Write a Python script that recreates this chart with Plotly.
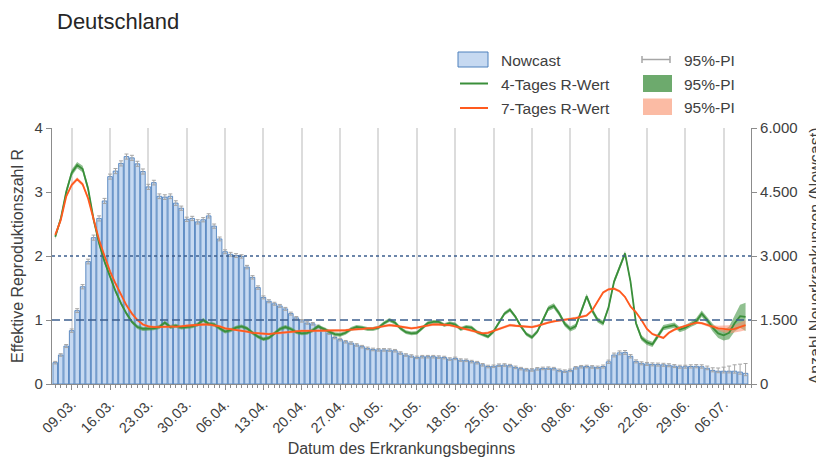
import pandas as pd
import plotly.graph_objects as go

# ---------------- data ----------------
dates = pd.date_range("2020-03-06", "2020-07-10", freq="D")

nowcast = [
    500, 680, 890, 1250, 1720, 2280, 2870, 3430, 3880, 4290,
    4860, 4990, 5170, 5330, 5300, 5160, 4980, 4620, 4720, 4400,
    4380, 4400, 4240, 4120, 3860, 3880, 3800, 3850, 3940, 3700,
    3400, 3100, 3040, 3010, 2990, 2740, 2500, 2260, 2030, 1940,
    1880, 1830, 1760, 1650, 1550, 1480, 1430, 1410, 1350, 1275,
    1190, 1090, 1040, 990, 960, 915, 875, 835, 810, 800,
    800, 795, 780, 725, 680, 655, 625, 640, 640, 640,
    630, 620, 585, 600, 560, 555, 525, 500, 450, 410,
    415, 440, 445, 430, 390, 360, 335, 330, 355, 365,
    370, 360, 320, 300, 320, 380, 405, 410, 400, 390,
    410, 520, 680, 730, 740, 650, 530, 485, 470, 460,
    455, 450, 440, 420, 405, 405, 410, 415, 405, 370,
    320, 300, 300, 300, 300, 280, 250,
]
nowcast_pi_plus = [
    30, 30, 35, 40, 45, 50, 55, 60, 60, 60,
    60, 60, 60, 60, 60, 60, 60, 60, 55, 55,
    55, 55, 55, 50, 50, 50, 50, 50, 50, 50,
    45, 45, 45, 45, 40, 40, 40, 40, 35, 35,
    35, 35, 35, 35, 30, 30, 30, 30, 30, 30,
    30, 30, 30, 30, 30, 30, 30, 30, 30, 30,
    30, 30, 30, 30, 30, 30, 30, 30, 30, 30,
    30, 30, 30, 30, 30, 30, 30, 30, 30, 30,
    30, 30, 30, 30, 30, 30, 30, 30, 30, 30,
    30, 30, 30, 30, 30, 30, 30, 30, 30, 30,
    35, 40, 45, 45, 45, 40, 35, 35, 35, 35,
    35, 35, 35, 35, 35, 35, 40, 40, 45, 50,
    60, 75, 95, 120, 150, 185, 230,
]
nowcast_pi_minus = [
    30, 30, 35, 40, 45, 50, 55, 60, 60, 60,
    60, 60, 60, 60, 60, 60, 60, 60, 55, 55,
    55, 55, 55, 50, 50, 50, 50, 50, 50, 50,
    45, 45, 45, 45, 40, 40, 40, 40, 35, 35,
    35, 35, 35, 35, 30, 30, 30, 30, 30, 30,
    30, 30, 30, 30, 30, 30, 30, 30, 30, 30,
    30, 30, 30, 30, 30, 30, 30, 30, 30, 30,
    30, 30, 30, 30, 30, 30, 30, 30, 30, 30,
    30, 30, 30, 30, 30, 30, 30, 30, 30, 30,
    30, 30, 30, 30, 30, 30, 30, 30, 30, 30,
    35, 40, 45, 45, 45, 40, 35, 35, 35, 35,
    35, 35, 35, 35, 35, 35, 35, 35, 35, 35,
    35, 35, 40, 40, 45, 50, 55,
]

r4 = [
    2.30, 2.58, 3.00, 3.30, 3.42, 3.36, 3.05, 2.57, 2.20, 1.91,
    1.68, 1.45, 1.26, 1.10, 0.97, 0.89, 0.86, 0.86, 0.87, 0.89,
    0.96, 0.89, 0.91, 0.88, 0.89, 0.90, 0.93, 1.00, 0.94, 0.93,
    0.87, 0.82, 0.84, 0.88, 0.90, 0.87, 0.80, 0.74, 0.70, 0.72,
    0.79, 0.86, 0.89, 0.86, 0.81, 0.79, 0.80, 0.84, 0.90, 0.86,
    0.81, 0.78, 0.77, 0.80, 0.86, 0.89, 0.88, 0.86, 0.86, 0.88,
    0.95, 1.00, 0.96, 0.87, 0.81, 0.79, 0.80, 0.88, 0.95, 0.97,
    0.97, 0.92, 0.95, 0.93, 0.86, 0.89, 0.88, 0.81, 0.77, 0.74,
    0.82, 0.97, 1.10, 1.16, 1.05, 0.90, 0.78, 0.73, 0.82, 1.00,
    1.18, 1.22, 1.10, 0.94, 0.86, 0.90, 1.14, 1.37, 1.15, 1.00,
    0.95, 1.20, 1.60, 1.82, 2.04, 1.60, 0.95, 0.72, 0.65, 0.62,
    0.75, 0.88, 0.90, 0.92, 0.85, 0.88, 0.93, 0.98, 1.10, 1.00,
    0.88, 0.79, 0.76, 0.80, 0.95, 1.06, 1.05,
]
r4_pi_halfwidth = [
    0.04, 0.04, 0.05, 0.05, 0.05, 0.05, 0.05, 0.04, 0.04, 0.04,
    0.03, 0.03, 0.03, 0.03, 0.03, 0.03, 0.03, 0.03, 0.03, 0.03,
    0.03, 0.03, 0.03, 0.03, 0.03, 0.03, 0.03, 0.03, 0.03, 0.03,
    0.03, 0.03, 0.03, 0.03, 0.03, 0.03, 0.03, 0.03, 0.03, 0.03,
    0.03, 0.03, 0.03, 0.03, 0.03, 0.03, 0.03, 0.03, 0.03, 0.03,
    0.03, 0.03, 0.03, 0.03, 0.03, 0.03, 0.03, 0.03, 0.03, 0.03,
    0.03, 0.03, 0.03, 0.03, 0.03, 0.03, 0.03, 0.03, 0.03, 0.03,
    0.03, 0.03, 0.03, 0.03, 0.03, 0.03, 0.03, 0.03, 0.03, 0.03,
    0.03, 0.03, 0.03, 0.03, 0.03, 0.03, 0.03, 0.03, 0.03, 0.03,
    0.04, 0.04, 0.04, 0.04, 0.04, 0.04, 0.04, 0.04, 0.04, 0.04,
    0.04, 0.04, 0.04, 0.04, 0.04, 0.04, 0.04, 0.04, 0.04, 0.04,
    0.04, 0.04, 0.04, 0.04, 0.04, 0.04, 0.04, 0.05, 0.05, 0.05,
    0.06, 0.07, 0.08, 0.10, 0.13, 0.18, 0.22,
]

r7 = [
    2.33, 2.56, 2.93, 3.11, 3.20, 3.12, 2.90, 2.58, 2.25, 2.00,
    1.76, 1.57, 1.39, 1.23, 1.10, 1.00, 0.93, 0.90, 0.89, 0.89,
    0.89, 0.89, 0.90, 0.90, 0.91, 0.92, 0.93, 0.93, 0.93, 0.92,
    0.90, 0.87, 0.86, 0.84, 0.83, 0.82, 0.80, 0.79, 0.78, 0.78,
    0.79, 0.80, 0.81, 0.82, 0.82, 0.83, 0.83, 0.83, 0.83, 0.83,
    0.83, 0.83, 0.83, 0.84, 0.85, 0.85, 0.86, 0.87, 0.87, 0.89,
    0.91, 0.92, 0.91, 0.90, 0.89, 0.87, 0.88, 0.90, 0.92, 0.93,
    0.93, 0.93, 0.92, 0.90, 0.88, 0.86, 0.84, 0.81, 0.79, 0.80,
    0.83, 0.87, 0.90, 0.92, 0.91, 0.90, 0.89, 0.89, 0.91, 0.94,
    0.96, 0.98, 0.99, 1.00, 1.01, 1.03, 1.05, 1.07, 1.15, 1.30,
    1.43, 1.48, 1.49, 1.45, 1.36, 1.21, 1.12, 1.00, 0.86, 0.78,
    0.75, 0.72, 0.80, 0.85, 0.88, 0.91, 0.94, 0.96, 0.95, 0.92,
    0.89, 0.87, 0.86, 0.85, 0.86, 0.89, 0.92,
]
r7_pi_halfwidth = [
    0.03, 0.03, 0.03, 0.03, 0.03, 0.03, 0.03, 0.03, 0.03, 0.02,
    0.02, 0.02, 0.02, 0.02, 0.02, 0.02, 0.02, 0.02, 0.02, 0.02,
    0.02, 0.02, 0.02, 0.02, 0.02, 0.02, 0.02, 0.02, 0.02, 0.02,
    0.02, 0.02, 0.02, 0.02, 0.02, 0.02, 0.02, 0.02, 0.02, 0.02,
    0.02, 0.02, 0.02, 0.02, 0.02, 0.02, 0.02, 0.02, 0.02, 0.02,
    0.02, 0.02, 0.02, 0.02, 0.02, 0.02, 0.02, 0.02, 0.02, 0.02,
    0.02, 0.02, 0.02, 0.02, 0.02, 0.02, 0.02, 0.02, 0.02, 0.02,
    0.02, 0.02, 0.02, 0.02, 0.02, 0.02, 0.02, 0.02, 0.02, 0.02,
    0.02, 0.02, 0.02, 0.02, 0.02, 0.02, 0.02, 0.02, 0.02, 0.02,
    0.02, 0.02, 0.02, 0.02, 0.02, 0.02, 0.02, 0.02, 0.02, 0.02,
    0.02, 0.02, 0.02, 0.02, 0.02, 0.02, 0.02, 0.02, 0.02, 0.02,
    0.02, 0.02, 0.02, 0.02, 0.02, 0.02, 0.02, 0.02, 0.02, 0.02,
    0.03, 0.04, 0.05, 0.06, 0.06, 0.07, 0.08,
]

r_ticks = [0, 1, 2, 3, 4]
count_ticks = [0, 1500, 3000, 4500, 6000]

# ---------------- styling ----------------
FONT = "Arial, 'Liberation Sans', Helvetica, sans-serif"
TXT = "#404040"
AXC = "#8c8c8c"
BAR_FILL = "#C6D9F1"
BAR_LINE = "#4F81BD"
GREEN = "#3A8F3A"
GREEN_BAND = "rgba(70,150,70,0.6)"
ORANGE = "#FF5A1E"
ORANGE_BAND = "rgba(255,140,110,0.55)"
ERR = "#A6A6A6"
REF = "#3D5F8F"

# The page body has an 8px margin, so the figure is drawn 8px in from the window corner.
OFF = 8
WIN_W, WIN_H = 824, 457
W, H = WIN_W - OFF, WIN_H - OFF
# plot area in window pixels
PX0, PX1, PY0, PY1 = 52, 751, 128, 384
L, R_, T, B = PX0 - OFF, WIN_W - PX1, PY0 - OFF, WIN_H - PY1
PW, PH = PX1 - PX0, PY1 - PY0


def px(x):
    return (x - PX0) / PW


def py(y):
    return (PY1 - y) / PH


r4_lo = [v - h for v, h in zip(r4, r4_pi_halfwidth)]
r4_hi = [v + h for v, h in zip(r4, r4_pi_halfwidth)]
r7_lo = [v - h for v, h in zip(r7, r7_pi_halfwidth)]
r7_hi = [v + h for v, h in zip(r7, r7_pi_halfwidth)]

fig = go.Figure()

fig.add_trace(go.Bar(
    x=dates, y=nowcast, name="Nowcast", yaxis="y",
    marker=dict(color=BAR_FILL, line=dict(color=BAR_LINE, width=0.9)),
    error_y=dict(type="data", array=nowcast_pi_plus, arrayminus=nowcast_pi_minus,
                 symmetric=False, color=ERR, thickness=1, width=2),
))

for lo, hi, col in [(r4_lo, r4_hi, GREEN_BAND), (r7_lo, r7_hi, ORANGE_BAND)]:
    fig.add_trace(go.Scatter(x=dates, y=lo, yaxis="y2", mode="lines",
                             line=dict(width=0, color=col), hoverinfo="skip"))
    fig.add_trace(go.Scatter(x=dates, y=hi, yaxis="y2", mode="lines", fill="tonexty",
                             fillcolor=col, line=dict(width=0, color=col), hoverinfo="skip"))

fig.add_trace(go.Scatter(x=dates, y=r4, yaxis="y2", mode="lines", name="4-Tages R-Wert",
                         line=dict(color=GREEN, width=1.8)))
fig.add_trace(go.Scatter(x=dates, y=r7, yaxis="y2", mode="lines", name="7-Tages R-Wert",
                         line=dict(color=ORANGE, width=1.8)))

shapes = [
    dict(type="line", xref="paper", x0=0, x1=1, yref="y2", y0=2, y1=2, layer="above",
         line=dict(color=REF, width=1.5, dash="3px,3px")),
    dict(type="line", xref="paper", x0=0, x1=1, yref="y2", y0=1, y1=1, layer="above",
         line=dict(color=REF, width=1.5, dash="8px,4px")),
]

# manual legend (window pixel positions)
shapes += [
    dict(type="rect", xref="paper", yref="paper", x0=px(458), x1=px(488), y0=py(52), y1=py(67),
         fillcolor=BAR_FILL, line=dict(color=BAR_LINE, width=1)),
    dict(type="line", xref="paper", yref="paper", x0=px(460), x1=px(488), y0=py(83.5), y1=py(83.5),
         line=dict(color=GREEN, width=2)),
    dict(type="line", xref="paper", yref="paper", x0=px(460), x1=px(488), y0=py(108), y1=py(108),
         line=dict(color=ORANGE, width=2)),
    dict(type="line", xref="paper", yref="paper", x0=px(642), x1=px(670), y0=py(59.5), y1=py(59.5),
         line=dict(color=ERR, width=1.5)),
    dict(type="line", xref="paper", yref="paper", x0=px(642), x1=px(642), y0=py(56), y1=py(63),
         line=dict(color=ERR, width=1.5)),
    dict(type="line", xref="paper", yref="paper", x0=px(670), x1=px(670), y0=py(56), y1=py(63),
         line=dict(color=ERR, width=1.5)),
    dict(type="rect", xref="paper", yref="paper", x0=px(643), x1=px(672), y0=py(75), y1=py(92),
         fillcolor="#6DAA6D", line=dict(width=0)),
    dict(type="rect", xref="paper", yref="paper", x0=px(643), x1=px(672), y0=py(98.5), y1=py(115),
         fillcolor="#FBBBA4", line=dict(width=0)),
]

legend_texts = [
    ("Nowcast", 499, 60), ("4-Tages R-Wert", 499, 84), ("7-Tages R-Wert", 499, 108),
    ("95%-PI", 682, 60), ("95%-PI", 682, 84), ("95%-PI", 682, 107),
]
annotations = [
    dict(text=t, xref="paper", yref="paper", x=px(x), y=py(y), xanchor="left", yanchor="middle",
         showarrow=False, font=dict(size=15.5, color=TXT, family=FONT))
    for t, x, y in legend_texts
]

fig.update_layout(
    width=W, height=H,
    margin=dict(l=L, r=R_, t=T, b=B, autoexpand=False),
    paper_bgcolor="white", plot_bgcolor="white",
    separators=",.",
    showlegend=False,
    bargap=0.16,
    font=dict(family=FONT, color=TXT, size=15),
    title=dict(text="Deutschland", x=(57 - OFF) / W, xanchor="left",
               y=1 - (21 - OFF) / H, yanchor="middle",
               font=dict(size=22, color="#262626", family=FONT)),
    xaxis=dict(
        type="date", range=["2020-03-05 09:46", "2020-07-10 23:50"],
        tickformat="%d.%m.", tick0="2020-03-09", dtick=7 * 86400000, tickangle=-45,
        showgrid=True, gridcolor="#dcdcdc", gridwidth=1.5,
        showline=True, linecolor=AXC, linewidth=1.2,
        ticks="outside", ticklen=5, tickcolor=AXC, tickwidth=1.2,
        tickfont=dict(size=14.5, color=TXT),
        minor=dict(dtick=86400000, ticks="outside", ticklen=3, tickcolor=AXC, tickwidth=1, showgrid=False),
        title=dict(text="Datum des Erkrankungsbeginns", font=dict(size=16, color=TXT), standoff=8),
        zeroline=False, automargin=False,
    ),
    yaxis=dict(
        side="right", range=[0, 6000], tickvals=count_ticks, tickformat=",.0f",
        showgrid=False, zeroline=False, showline=True, linecolor=AXC, linewidth=1.2,
        ticks="outside", ticklen=5, tickcolor=AXC, tickwidth=1.2,
        tickfont=dict(size=15, color=TXT),
        title=dict(text="Anzahl Neuerkrankungen (Nowcast)", font=dict(size=16, color=TXT), standoff=14),
        automargin=False,
    ),
    yaxis2=dict(
        overlaying="y", side="left", range=[0, 4], tickvals=r_ticks,
        showgrid=False, zeroline=False, showline=True, linecolor=AXC, linewidth=1.2,
        ticks="outside", ticklen=5, tickcolor=AXC, tickwidth=1.2,
        tickfont=dict(size=15, color=TXT),
        title=dict(text="Effektive Reproduktionszahl R", font=dict(size=16, color=TXT), standoff=6),
        automargin=False,
    ),
    shapes=shapes,
    annotations=annotations,
)

fig.write_html("out.html")
